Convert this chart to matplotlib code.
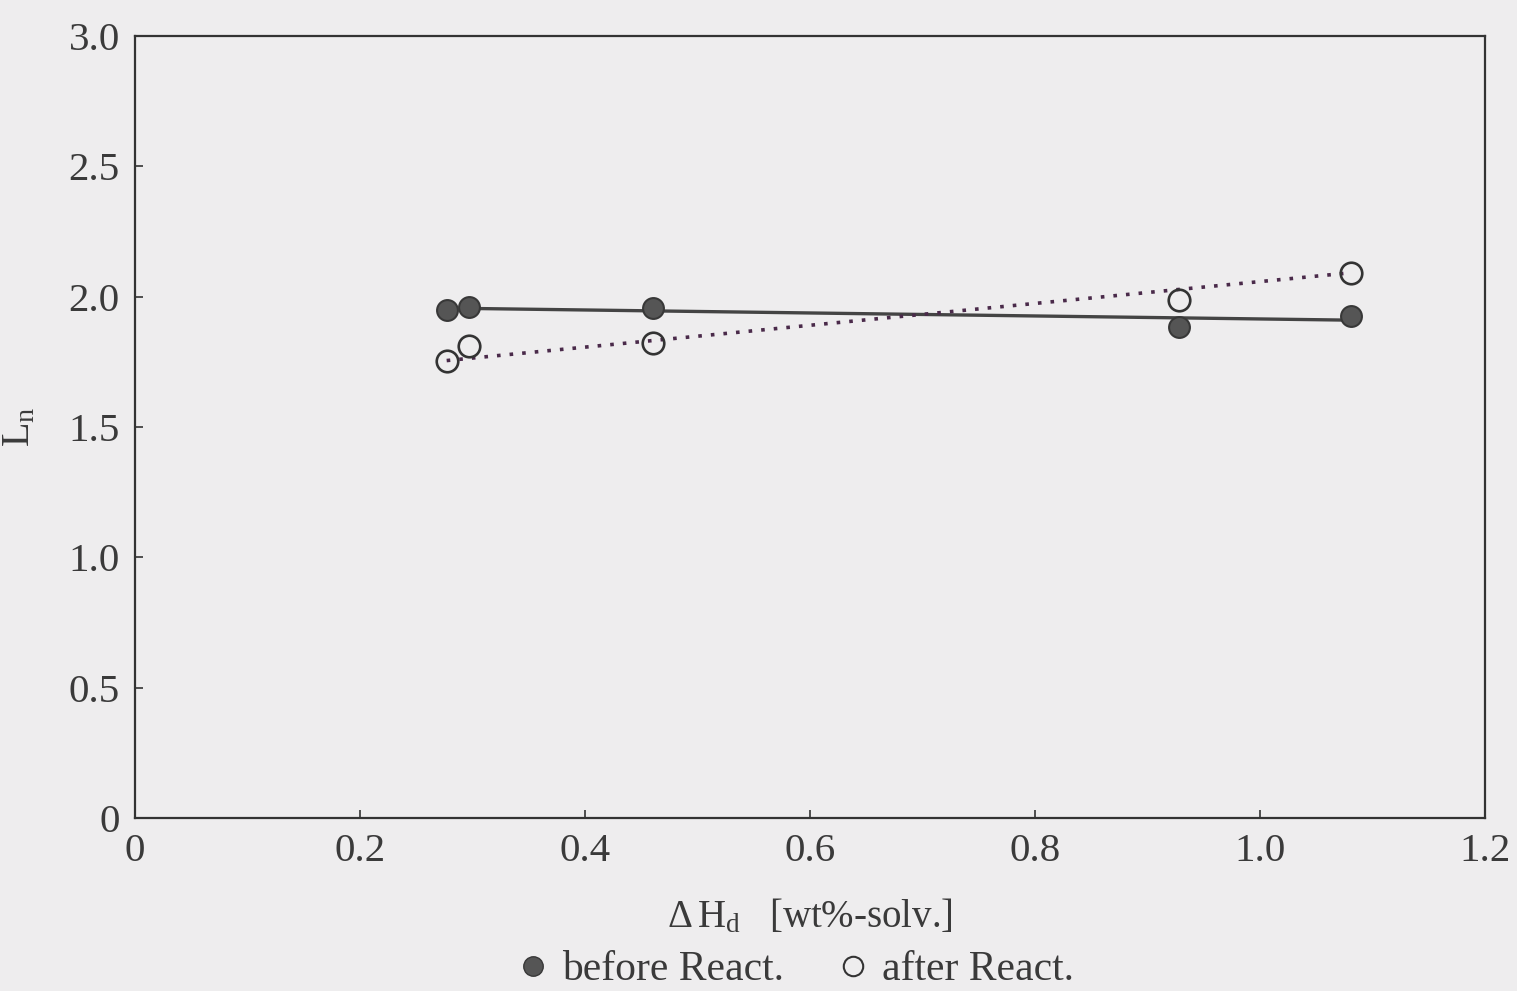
import matplotlib
matplotlib.use('Agg')
import matplotlib.pyplot as plt
from matplotlib.lines import Line2D

plt.rcParams['font.family'] = ['Liberation Serif', 'DejaVu Serif']
plt.rcParams['mathtext.fontset'] = 'custom'
plt.rcParams['mathtext.rm'] = 'Liberation Serif'
plt.rcParams['mathtext.it'] = 'Liberation Serif'

# data
dh = [0.277, 0.297, 0.460, 0.928, 1.081]
ln_before = [1.949, 1.960, 1.956, 1.883, 1.926]
ln_after = [1.753, 1.810, 1.822, 1.987, 2.090]

# trend lines (end points)
line_before_x = [0.297, 1.081]
line_before_y = [1.955, 1.910]
line_after_x = [0.277, 1.081]
line_after_y = [1.755, 2.092]

xticks = [0, 0.2, 0.4, 0.6, 0.8, 1.0, 1.2]
xtick_labels = ['0', '0.2', '0.4', '0.6', '0.8', '1.0', '1.2']
yticks = [0, 0.5, 1.0, 1.5, 2.0, 2.5, 3.0]
ytick_labels = ['0', '0.5', '1.0', '1.5', '2.0', '2.5', '3.0']

bg = '#eeedee'
dark = '#333333'
txt = '#3a3a3a'

fig = plt.figure(figsize=(15.17, 9.91), dpi=100, facecolor=bg)
ax = fig.add_axes([0.089, 0.1746, 0.890, 0.789], facecolor=bg)

ax.plot(line_before_x, line_before_y, '-', color='#444444', lw=2.4, zorder=2)
ax.plot(line_after_x, line_after_y, linestyle=(0, (1, 2.5)), color='#4a2a4a',
        lw=2.6, zorder=2)

ax.plot(dh, ln_before, 'o', ms=15, mfc='#555555', mec='#383838', mew=1.5,
        ls='none', zorder=3)
ax.plot(dh, ln_after, 'o', ms=15.5, mfc='none', mec='#333333', mew=1.9,
        ls='none', zorder=3)

ax.set_xlim(0, 1.2)
ax.set_ylim(0, 3.0)
ax.set_xticks(xticks)
ax.set_xticklabels(xtick_labels)
ax.set_yticks(yticks)
ax.set_yticklabels(ytick_labels)
ax.tick_params(direction='in', length=6, width=1.2, color=dark,
               labelsize=29.5, labelcolor=txt, pad=11)
for s in ax.spines.values():
    s.set_color(dark)
    s.set_linewidth(1.6)

ax.set_xlabel(r'$\Delta\,\mathrm{H_d}$   [wt%-solv.]', fontsize=28,
              color=txt, labelpad=20)
ax.set_ylabel(r'$\mathrm{L_n}$', fontsize=29, color=txt, labelpad=22)

handles = [
    Line2D([], [], marker='o', ls='none', ms=14, mfc='#555555', mec='#383838'),
    Line2D([], [], marker='o', ls='none', ms=14, mfc='none', mec='#333333', mew=1.5),
]
fig.legend(handles, ['before React.', 'after React.'], loc='center',
           bbox_to_anchor=(0.524, 0.021), ncol=2, frameon=False, fontsize=30,
           handlelength=0.8, handletextpad=0.3, columnspacing=1.25,
           labelcolor=txt)

fig.savefig('out.png', dpi=100, facecolor=bg)
